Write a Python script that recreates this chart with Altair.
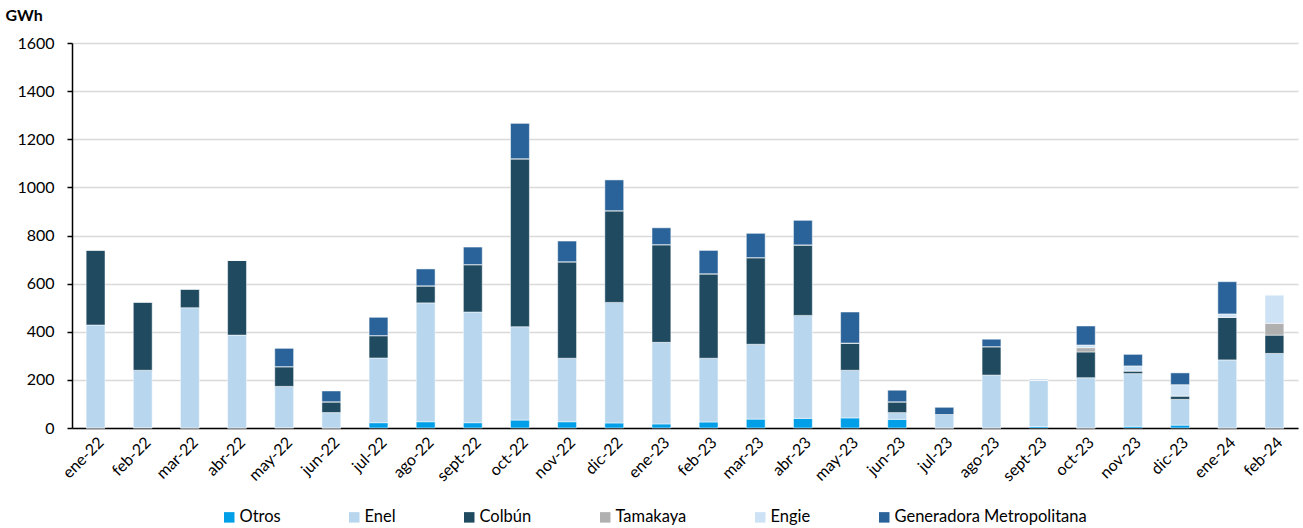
import altair as alt
import pandas as pd

months = ["ene-22", "feb-22", "mar-22", "abr-22", "may-22", "jun-22", "jul-22", "ago-22",
          "sept-22", "oct-22", "nov-22", "dic-22", "ene-23", "feb-23", "mar-23", "abr-23",
          "may-23", "jun-23", "jul-23", "ago-23", "sept-23", "oct-23", "nov-23", "dic-23",
          "ene-24", "feb-24"]

otros = [0, 1, 0, 0, 1, 0, 22, 26, 22, 33, 26, 21, 17, 25, 37, 40, 42, 36, 0, 0, 6, 0, 7, 12, 0, 0]
enel = [428, 239, 500, 386, 172, 64, 269, 494, 460, 388, 264, 501, 339, 265, 311, 428, 198, 28,
        56, 220, 194, 209, 219, 107, 283, 310]
colbun = [312, 284, 78, 311, 82, 45, 93, 71, 197, 698, 401, 381, 406, 351, 360, 293, 113, 45,
          0, 118, 0, 107, 11, 14, 177, 76]
tamakaya = [0] * 21 + [18, 0, 0, 0, 49]
engie = [0] * 21 + [11, 21, 47, 14, 118]
gen_metro = [0, 0, 0, 0, 76, 45, 76, 70, 73, 147, 86, 128, 70, 97, 101, 102, 129, 48, 30, 31,
             2, 79, 48, 49, 134, 0]

series_names = ["Otros", "Enel", "Colbún", "Tamakaya", "Engie", "Generadora Metropolitana"]
series_values = [otros, enel, colbun, tamakaya, engie, gen_metro]
colors = ["#009FE8", "#B8D7EE", "#1F4A60", "#B0B0B0", "#CDE2F5", "#2A6399"]

rows = []
for si, (name, vals) in enumerate(zip(series_names, series_values)):
    for m, v in zip(months, vals):
        rows.append({"mes": m, "serie": name, "valor": v, "orden": si})
df = pd.DataFrame(rows)

FONT = "Lato"

chart = alt.Chart(df).mark_bar(stroke="white", strokeWidth=0.5).encode(
    x=alt.X("mes:N", sort=months, title=None,
            scale=alt.Scale(paddingInner=0.6, paddingOuter=0.3),
            axis=alt.Axis(labelAngle=-45, ticks=False, domainColor="black", domainWidth=1.5,
                          labelFontSize=16, labelFont=FONT, labelColor="black", labelPadding=6)),
    y=alt.Y("valor:Q", stack="zero", title="GWh",
            scale=alt.Scale(domain=[0, 1600], nice=False),
            axis=alt.Axis(values=[0, 200, 400, 600, 800, 1000, 1200, 1400, 1600], format="d",
                          grid=True, gridColor="#D9D9D9", gridWidth=1.5,
                          domainColor="black", domainWidth=1.5,
                          tickColor="black", tickSize=5, tickWidth=1.5,
                          labelFontSize=16, labelFont=FONT, labelColor="black", labelPadding=13,
                          titleAngle=0, titleAlign="left", titleBaseline="alphabetic",
                          titleX=-67, titleY=-23, titleFont=FONT, titleFontSize=16,
                          titleFontWeight="bold", titleColor="black")),
    color=alt.Color("serie:N", sort=series_names,
                    scale=alt.Scale(domain=series_names, range=colors),
                    legend=alt.Legend(title=None, orient="none", direction="horizontal",
                                      legendX=149, legendY=466, symbolType="square",
                                      symbolSize=110, symbolStrokeWidth=0, columnPadding=65,
                                      labelFontSize=16.5, labelFont=FONT, labelColor="black",
                                      labelLimit=400, padding=0, labelOffset=2)),
    order=alt.Order("orden:Q", sort="ascending"),
).properties(
    width=1226, height=385,
    autosize=alt.AutoSizeParams(type="none"),
    padding={"left": 72, "top": 43, "right": 5, "bottom": 100},
).configure_view(stroke=None)

chart.save("out.html", embed_options={"renderer": "svg", "actions": False})
